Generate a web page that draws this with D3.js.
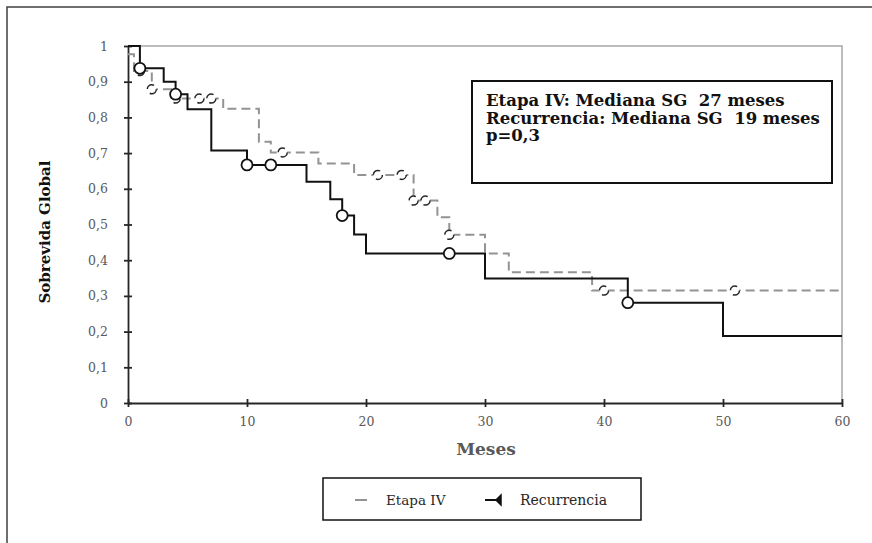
<!DOCTYPE html>
<html>
<head>
    <title>Sobrevida Global</title>
    <script src="https://d3js.org/d3.v7.min.js"></script>
    <style>
        body { margin: 0; background: #fff; }
        svg { display: block; font-family: 'DejaVu Serif', serif; }
        .axis path, .axis line { stroke: #262626; stroke-width: 1.8; }
        .axis text { fill: #595959; font-size: 12.5px; font-family: 'DejaVu Serif', serif; }
    </style>
</head>
<body>
<svg width="872" height="543"></svg>
<script>
    // Recurrencia (solid black): step times and survival after each step
    var recTime = [0, 1, 3, 4, 5, 7, 10, 15, 17, 18, 19, 20, 30, 42, 50];
    var recSurv = [1, 0.9375, 0.900, 0.865, 0.823, 0.707, 0.667, 0.620, 0.571, 0.525, 0.472, 0.419, 0.349, 0.281, 0.188];
    var recCensTime = [1, 4, 10, 12, 18, 27, 42];
    var recCensSurv = [0.9375, 0.865, 0.667, 0.667, 0.525, 0.419, 0.281];

    // Etapa IV (dashed gray)
    var etaTime = [0, 0.5, 2, 4, 8, 11, 12, 16, 19, 24, 26, 27, 30, 32, 39];
    var etaSurv = [0.977, 0.930, 0.879, 0.853, 0.824, 0.732, 0.702, 0.671, 0.639, 0.567, 0.520, 0.471, 0.419, 0.366, 0.315];
    var etaCensTime = [1, 2, 4, 6, 7, 13, 21, 23, 24, 25, 27, 40, 51];
    var etaCensSurv = [0.930, 0.879, 0.853, 0.853, 0.853, 0.702, 0.639, 0.639, 0.567, 0.567, 0.471, 0.315, 0.315];

    var xTicks = [0, 10, 20, 30, 40, 50, 60];
    var yTicks = [0, 0.1, 0.2, 0.3, 0.4, 0.5, 0.6, 0.7, 0.8, 0.9, 1];
    var maxTime = 60;

    var svg = d3.select("svg");
    var x = d3.scaleLinear().domain([0, 60]).range([128, 842]),
        y = d3.scaleLinear().domain([0, 1]).range([403, 46]);

    // outer frame (right and bottom edges fall outside the picture)
    svg.append("rect")
        .attr("x", 7).attr("y", 7)
        .attr("width", 900).attr("height", 600)
        .attr("fill", "none")
        .attr("stroke", "#404040")
        .attr("stroke-width", 1.5);

    // plot area top and right border
    svg.append("path")
        .attr("d", "M" + x(0) + "," + y(1) + "H" + x(60) + "V" + y(0))
        .attr("fill", "none")
        .attr("stroke", "#a6a6a6")
        .attr("stroke-width", 1.5);

    var fmt = function(d) { return String(d).replace(".", ","); };

    var yAxis = svg.append("g")
        .attr("class", "axis")
        .attr("transform", "translate(" + x(0) + ",0)")
        .call(d3.axisLeft(y).tickValues(yTicks).tickFormat(fmt).tickSize(4).tickPadding(16).tickSizeOuter(0));
    yAxis.selectAll(".tick line").attr("x1", -4).attr("x2", 4);

    var xAxis = svg.append("g")
        .attr("class", "axis")
        .attr("transform", "translate(0," + y(0) + ")")
        .call(d3.axisBottom(x).tickValues(xTicks).tickSize(4).tickPadding(10).tickSizeOuter(0));
    xAxis.selectAll(".tick line").attr("y1", -4).attr("y2", 4);

    function stepData(times, surv) {
        var pts = times.map(function(t, i) { return [t, surv[i]]; });
        pts.push([maxTime, surv[surv.length - 1]]);
        return pts;
    }
    var line = d3.line()
        .x(function(d) { return x(d[0]); })
        .y(function(d) { return y(d[1]); })
        .curve(d3.curveStepAfter);

    // Etapa IV
    svg.append("path")
        .datum(stepData(etaTime, etaSurv))
        .attr("d", line)
        .attr("fill", "none")
        .attr("stroke", "#939393")
        .attr("stroke-width", 2)
        .attr("stroke-dasharray", "9,5");
    svg.selectAll(".ceta")
        .data(etaCensTime)
        .enter().append("circle")
        .attr("class", "ceta")
        .attr("cx", function(d) { return x(d); })
        .attr("cy", function(d, i) { return y(etaCensSurv[i]); })
        .attr("r", 4.5)
        .attr("fill", "#fff")
        .attr("stroke", "#262626")
        .attr("stroke-width", 1.5)
        .attr("stroke-dasharray", "9,5");

    // Recurrencia
    svg.append("path")
        .datum(stepData(recTime, recSurv))
        .attr("d", line)
        .attr("fill", "none")
        .attr("stroke", "#111")
        .attr("stroke-width", 2);
    svg.selectAll(".crec")
        .data(recCensTime)
        .enter().append("circle")
        .attr("class", "crec")
        .attr("cx", function(d) { return x(d); })
        .attr("cy", function(d, i) { return y(recCensSurv[i]); })
        .attr("r", 5.5)
        .attr("fill", "#fff")
        .attr("stroke", "#111")
        .attr("stroke-width", 1.8);

    // axis titles
    svg.append("text")
        .attr("transform", "translate(50,232) rotate(-90)")
        .attr("text-anchor", "middle")
        .attr("font-size", 15)
        .attr("font-weight", "bold")
        .attr("fill", "#111")
        .text("Sobrevida Global");
    svg.append("text")
        .attr("x", 486).attr("y", 455)
        .attr("text-anchor", "middle")
        .attr("font-size", 17)
        .attr("font-weight", "bold")
        .attr("fill", "#595959")
        .text("Meses");

    // annotation box
    var notes = ["Etapa IV: Mediana SG  27 meses", "Recurrencia: Mediana SG  19 meses", "p=0,3"];
    svg.append("rect")
        .attr("x", 472).attr("y", 81)
        .attr("width", 360).attr("height", 102)
        .attr("fill", "#fff")
        .attr("stroke", "#111")
        .attr("stroke-width", 2);
    svg.selectAll(".note")
        .data(notes)
        .enter().append("text")
        .attr("class", "note")
        .attr("x", 486)
        .attr("y", function(d, i) { return 106 + i * 17.5; })
        .attr("font-size", 16.5)
        .attr("font-weight", "bold")
        .attr("fill", "#111")
        .style("white-space", "pre")
        .text(function(d) { return d; });

    // legend
    var leg = svg.append("g");
    leg.append("rect")
        .attr("x", 323).attr("y", 478)
        .attr("width", 318).attr("height", 42)
        .attr("fill", "#fff")
        .attr("stroke", "#111")
        .attr("stroke-width", 1.5);
    leg.append("line")
        .attr("x1", 355).attr("x2", 367).attr("y1", 500).attr("y2", 500)
        .attr("stroke", "#939393").attr("stroke-width", 2);
    leg.append("text")
        .attr("x", 386).attr("y", 505)
        .attr("font-size", 13.5).attr("fill", "#262626")
        .text("Etapa IV");
    leg.append("line")
        .attr("x1", 485).attr("x2", 500).attr("y1", 500).attr("y2", 500)
        .attr("stroke", "#111").attr("stroke-width", 2);
    leg.append("path")
        .attr("d", "M496,500L501,495V505Z")
        .attr("fill", "#111").attr("stroke", "#111").attr("stroke-width", 1.5);
    leg.append("text")
        .attr("x", 520).attr("y", 505)
        .attr("font-size", 14).attr("fill", "#262626")
        .text("Recurrencia");
</script>
</body>
</html>
